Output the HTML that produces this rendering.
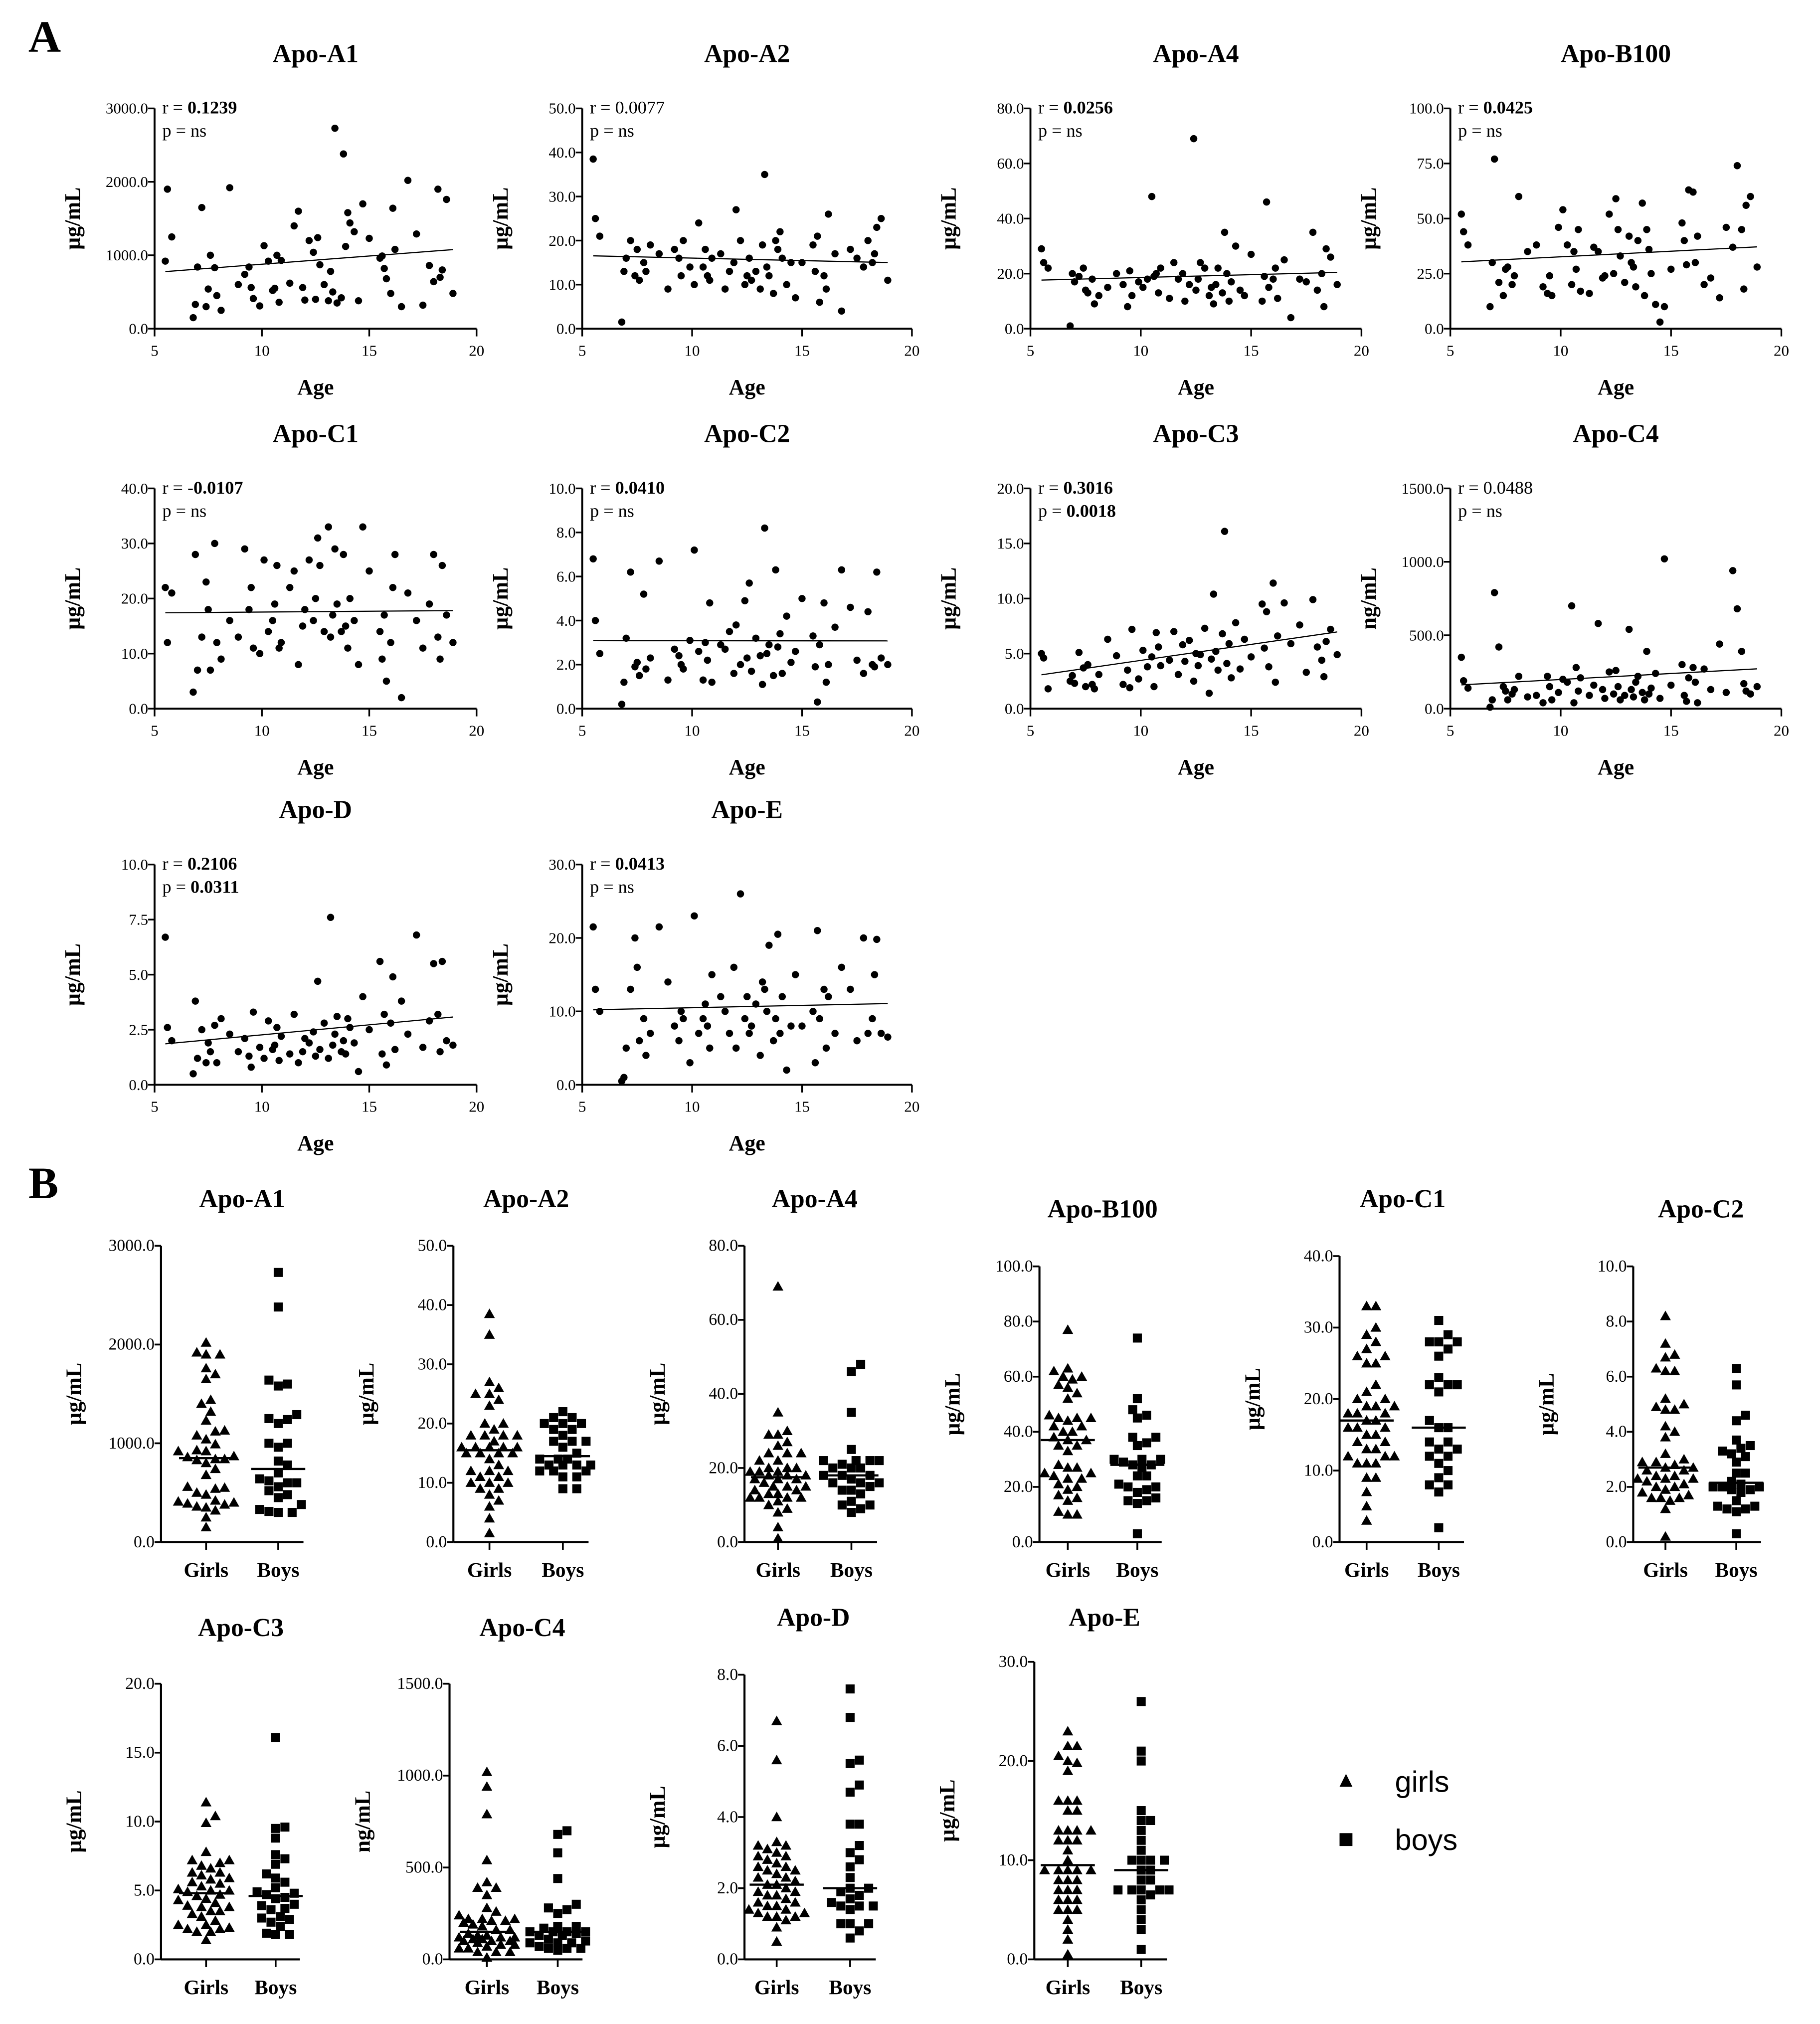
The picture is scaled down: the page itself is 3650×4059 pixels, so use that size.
<!DOCTYPE html>
<html><head><meta charset="utf-8"><style>
html,body{margin:0;padding:0;background:#fff;}
svg{display:block;font-family:"Liberation Serif",serif;}
</style></head><body>
<svg id="fig" xmlns="http://www.w3.org/2000/svg" width="3650" height="4059" viewBox="0 0 1413 1571">
<rect width="1413" height="1571" fill="#fff"/>
<text x="22" y="40" font-size="35" font-weight="bold">A</text>
<text x="22" y="930" font-size="35" font-weight="bold">B</text>
<g>
<path d="M1045,1377 L1050,1387 L1040,1387 Z" fill="#000"/>
<text x="1083" y="1391" font-size="23" font-family="Liberation Sans, sans-serif">girls</text>
<rect x="1040" y="1423" width="10" height="10" fill="#000"/>
<text x="1083" y="1436" font-size="23" font-family="Liberation Sans, sans-serif">boys</text>
</g>
</svg>
<script>
const ages=[5.5,5.6,5.8,6.8,6.9,7.0,7.2,7.4,7.5,7.6,7.8,7.9,8.1,8.5,8.9,9.2,9.4,9.5,9.6,9.9,10.1,10.3,10.5,10.6,10.7,10.8,10.9,11.3,11.5,11.7,11.9,12.0,12.2,12.4,12.5,12.6,12.7,12.9,13.1,13.2,13.3,13.4,13.5,13.7,13.8,13.9,14.0,14.1,14.3,14.5,14.7,15.0,15.5,15.6,15.7,15.8,16.0,16.1,16.2,16.5,16.8,17.2,17.5,17.8,18.0,18.2,18.3,18.4,18.6,18.9];
const sex=("GGBGBGGBGB"+"GBGGBGGBGB"+"GGBGBGGBGB"+"GGBGGBGBGB"+"GBGGBGBGGB"+"GGBGBGGBGB"+"GBGGBGBGGB").split("");
const apoA1=[920,1900,1250,150,330,840,1650,300,540,1000,830,450,250,1920,600,740,840,560,410,310,1130,920,520,550,1000,360,930,620,1400,1600,560,390,1200,1040,400,1240,870,600,380,780,500,2730,350,420,2380,1120,1580,1440,1320,380,1700,1230,960,990,820,680,480,1640,1080,300,2020,1290,320,860,640,1900,700,800,1760,480];
const apoA2=[38.5,25,21,1.5,13,16,20,12,18,11,15,13,19,17,9,18,16,12,20,14,10,24,14,18,12,11,16,17,9,13,15,27,20,10,12,16,11,13,9,19,35,14,12,8,20,18,22,16,10,15,7,15,19,13,21,6,12,9,26,17,4,18,16,14,20,15,17,23,25,11];
const apoA4=[29,24,22,1,20,17,19,22,14,13,18,9,12,15,20,16,8,21,12,17,15,18,48,19,20,13,22,11,24,18,20,10,16,69,14,18,24,22,12,15,9,16,22,13,35,20,10,17,30,14,12,27,10,19,46,15,18,22,11,25,4,18,17,35,14,20,8,29,26,16];
const apoB100=[52,44,38,10,30,77,21,15,27,28,20,24,60,35,38,19,16,24,15,46,54,38,20,35,27,45,17,16,37,35,23,24,52,25,59,45,33,21,42,30,28,19,40,57,15,45,36,25,11,3,10,27,48,40,29,63,62,30,42,20,23,14,46,37,74,45,18,56,60,28];
const apoC1=[22,12,21,3,28,7,13,23,18,7,30,12,9,16,13,29,18,22,11,10,27,14,16,19,26,11,12,22,25,8,15,18,27,16,20,31,26,14,33,13,17,29,19,14,28,15,11,20,16,8,33,25,14,9,17,5,12,22,28,2,21,16,11,19,28,13,9,26,17,12];
const apoC2=[6.8,4,2.5,0.2,1.2,3.2,6.2,1.9,2.1,1.5,5.2,1.8,2.3,6.7,1.3,2.7,2.4,2.0,1.8,3.1,7.2,2.6,1.3,3.0,2.2,4.8,1.2,2.9,2.7,3.5,1.6,3.8,2.0,4.9,2.3,5.7,1.7,3.2,2.4,1.1,8.2,2.5,2.9,1.5,6.3,2.8,3.4,1.6,4.2,2.1,2.6,5.0,3.3,1.9,0.3,2.9,4.8,1.2,2.0,3.7,6.3,4.6,2.2,1.6,4.4,2.0,1.9,6.2,2.3,2.0];
const apoC3=[5,4.6,1.8,2.5,3,2.3,5.1,3.7,2.0,4.0,2.2,1.8,3.1,6.3,4.8,2.2,3.5,1.9,7.2,2.7,5.3,3.8,4.7,2.0,6.9,5.6,3.9,4.4,7.0,3.1,5.8,4.3,6.2,2.5,5.0,3.9,4.9,7.3,1.4,4.5,10.4,5.2,3.5,6.8,16.1,4.1,5.9,2.8,7.8,3.6,6.3,4.7,9.5,5.5,8.8,3.8,11.4,2.4,6.6,9.6,5.9,7.6,3.3,9.9,5.6,4.4,2.9,6.1,7.2,4.9];
const apoC4=[350,190,140,10,60,790,420,150,120,60,100,130,220,80,90,40,220,150,60,110,200,180,700,40,280,120,210,90,160,580,130,70,250,100,260,150,60,90,540,130,80,180,220,110,60,390,100,140,240,70,1020,160,300,90,50,210,280,180,40,270,130,440,110,940,680,390,170,120,100,150];
const apoD=[6.7,2.6,2.0,0.5,3.8,1.2,2.5,1.0,1.9,1.5,2.7,1.0,3.0,2.3,1.5,2.1,1.3,0.8,3.3,1.7,1.2,2.9,1.6,1.8,2.6,1.1,2.2,1.4,3.2,1.0,1.5,2.1,1.9,2.4,1.3,4.7,1.6,2.8,1.2,7.6,1.8,2.3,3.1,1.5,2.0,1.4,3.0,2.6,1.9,0.6,4.0,2.5,5.6,1.4,3.2,0.9,2.8,4.9,1.6,3.8,2.3,6.8,1.7,2.9,5.5,3.2,1.5,5.6,2.0,1.8];
const apoE=[21.5,13,10,0.5,1,5,13,20,16,6,9,4,7,21.5,14,8,6,10,9,3,23,7,9,11,8,5,15,12,10,7,16,5,26,9,12,7,8,11,4,14,13,10,19,6,9,20.5,7,12,2,8,15,8,10,3,21,9,13,5,12,7,16,13,6,20,7,9,15,19.8,7,6.5];
const xTicks=[5,10,15,20];
const rTexts=["0.1239","0.0077","0.0256","0.0425","-0.0107","0.0410","0.3016","0.0488","0.2106","0.0413"];
const pTexts=["ns","ns","ns","ns","ns","ns","0.0018","ns","0.0311","ns"];

const NS="http://www.w3.org/2000/svg";
const svg=document.getElementById("fig");
function el(tag,attrs,parent,text){const e=document.createElementNS(NS,tag);for(const k in attrs)e.setAttribute(k,attrs[k]);if(text!==undefined)e.textContent=text;(parent||svg).appendChild(e);return e;}
function fmt(v){return v.toFixed(1);}

const scatterCfg=[
{t:"Apo-A1",d:apoA1,x0:120,x1:370,top:84,bot:255,max:3000,step:1000,u:"µg/mL",rb:true,pb:false},
{t:"Apo-A2",d:apoA2,x0:452,x1:708,top:84,bot:255,max:50,step:10,u:"µg/mL",rb:false,pb:false},
{t:"Apo-A4",d:apoA4,x0:800,x1:1057,top:84,bot:255,max:80,step:20,u:"µg/mL",rb:true,pb:false},
{t:"Apo-B100",d:apoB100,x0:1126,x1:1383,top:84,bot:255,max:100,step:25,u:"µg/mL",rb:true,pb:false},
{t:"Apo-C1",d:apoC1,x0:120,x1:370,top:379,bot:550,max:40,step:10,u:"µg/mL",rb:true,pb:false},
{t:"Apo-C2",d:apoC2,x0:452,x1:708,top:379,bot:550,max:10,step:2,u:"µg/mL",rb:true,pb:false},
{t:"Apo-C3",d:apoC3,x0:800,x1:1057,top:379,bot:550,max:20,step:5,u:"µg/mL",rb:true,pb:true},
{t:"Apo-C4",d:apoC4,x0:1126,x1:1383,top:379,bot:550,max:1500,step:500,u:"ng/mL",rb:false,pb:false},
{t:"Apo-D",d:apoD,x0:120,x1:370,top:671,bot:842,max:10,step:2.5,u:"µg/mL",rb:true,pb:true},
{t:"Apo-E",d:apoE,x0:452,x1:708,top:671,bot:842,max:30,step:10,u:"µg/mL",rb:true,pb:false}];

scatterCfg.forEach((c,i)=>{
  const slug=c.t.toLowerCase();
  const g=el("g",{});
  
  
  const xs=a=>c.x0+(a-5)/15*(c.x1-c.x0);
  const ys=v=>c.bot-v/c.max*(c.bot-c.top);
  const tt=el("text",{x:(c.x0+c.x1)/2,y:c.top-36,"font-size":20,"font-weight":"bold","text-anchor":"middle"},g,c.t);
  
  
  el("line",{x1:c.x0,y1:c.top,x2:c.x0,y2:c.bot,stroke:"#000","stroke-width":1.5},g);
  el("line",{x1:c.x0,y1:c.bot,x2:c.x1,y2:c.bot,stroke:"#000","stroke-width":1.5},g);
  for(let v=0;v<=c.max+1e-9;v+=c.step){
    const y=ys(v);
    el("line",{x1:c.x0-5,y1:y,x2:c.x0,y2:y,stroke:"#000","stroke-width":1.3},g);
    const tl=el("text",{x:c.x0-5,y:y+4,"font-size":12,"text-anchor":"end"},g,fmt(v));
    
    
  }
  xTicks.forEach(a=>{
    const x=xs(a);
    el("line",{x1:x,y1:c.bot,x2:x,y2:c.bot+6,stroke:"#000","stroke-width":1.3},g);
    const tl=el("text",{x:x,y:c.bot+21,"font-size":12,"text-anchor":"middle"},g,String(a));
    
    
  });
  const xl=el("text",{x:(c.x0+c.x1)/2,y:c.bot+51,"font-size":17,"font-weight":"bold","text-anchor":"middle"},g,"Age");
  
  
  const cy=(c.top+c.bot)/2;
  const yl=el("text",{x:c.x0-58,y:cy,"font-size":17,"font-weight":"bold","text-anchor":"middle",transform:`rotate(-90 ${c.x0-58} ${cy})`},g,c.u);
  
  
  const r=el("text",{x:c.x0+6,y:c.top+4,"font-size":14},g);
  
  
  el("tspan",{},r,"r = ");
  el("tspan",{"font-weight":c.rb?"bold":"normal"},r,rTexts[i]);
  const p=el("text",{x:c.x0+6,y:c.top+22,"font-size":14},g);
  
  
  el("tspan",{},p,"p = ");
  el("tspan",{"font-weight":c.pb?"bold":"normal"},p,"  "+pTexts[i]);
  const n=ages.length;let sx=0,sy=0,sxx=0,sxy=0;
  for(let k=0;k<n;k++){sx+=ages[k];sy+=c.d[k];sxx+=ages[k]*ages[k];sxy+=ages[k]*c.d[k];}
  const b=(n*sxy-sx*sy)/(n*sxx-sx*sx),a0=(sy-b*sx)/n;
  const amin=Math.min(...ages),amax=Math.max(...ages);
  const rl=el("line",{x1:xs(amin),y1:ys(a0+b*amin),x2:xs(amax),y2:ys(a0+b*amax),stroke:"#000","stroke-width":0.9},g);
  
  
  for(let k=0;k<n;k++){
    const pt=el("circle",{cx:xs(ages[k]),cy:ys(c.d[k]),r:2.8,fill:"#000"},g);
    
    
  }
});

const dotCfg=[
{t:"Apo-A1",d:apoA1,ax:125,gx:160,bx:216,top:967,bot:1197,max:3000,step:1000,u:"µg/mL",ty:937},
{t:"Apo-A2",d:apoA2,ax:352,gx:380,bx:437,top:967,bot:1197,max:50,step:10,u:"µg/mL",ty:937},
{t:"Apo-A4",d:apoA4,ax:578,gx:604,bx:661,top:967,bot:1197,max:80,step:20,u:"µg/mL",ty:937},
{t:"Apo-B100",d:apoB100,ax:807,gx:829,bx:883,top:983,bot:1197,max:100,step:20,u:"µg/mL",ty:945},
{t:"Apo-C1",d:apoC1,ax:1040,gx:1061,bx:1117,top:975,bot:1197,max:40,step:10,u:"µg/mL",ty:937},
{t:"Apo-C2",d:apoC2,ax:1268,gx:1293,bx:1348,top:983,bot:1197,max:10,step:2,u:"µg/mL",ty:945},
{t:"Apo-C3",d:apoC3,ax:125,gx:160,bx:214,top:1307,bot:1521,max:20,step:5,u:"µg/mL",ty:1270},
{t:"Apo-C4",d:apoC4,ax:349,gx:378,bx:433,top:1307,bot:1521,max:1500,step:500,u:"ng/mL",ty:1270},
{t:"Apo-D",d:apoD,ax:578,gx:603,bx:660,top:1300,bot:1521,max:8,step:2,u:"µg/mL",ty:1262},
{t:"Apo-E",d:apoE,ax:803,gx:829,bx:886,top:1290,bot:1521,max:30,step:10,u:"µg/mL",ty:1262}];

function median(a){const s=[...a].sort((x,y)=>x-y);const m=s.length>>1;return s.length%2?s[m]:(s[m-1]+s[m])/2;}

dotCfg.forEach(c=>{
  const slug=c.t.toLowerCase();
  const g=el("g",{});
  
  
  const ys=v=>c.bot-v/c.max*(c.bot-c.top);
  const tt=el("text",{x:(c.gx+c.bx)/2,y:c.ty,"font-size":20,"font-weight":"bold","text-anchor":"middle"},g,c.t);
  
  
  const xend=c.bx+(c.bx-c.gx)*0.35;
  el("line",{x1:c.ax,y1:c.top,x2:c.ax,y2:c.bot,stroke:"#000","stroke-width":1.6},g);
  el("line",{x1:c.ax,y1:c.bot,x2:xend,y2:c.bot,stroke:"#000","stroke-width":1.6},g);
  for(let v=0;v<=c.max+1e-9;v+=c.step){
    const y=ys(v);
    el("line",{x1:c.ax-5,y1:y,x2:c.ax,y2:y,stroke:"#000","stroke-width":1.4},g);
    const tl=el("text",{x:c.ax-5,y:y+4,"font-size":13,"text-anchor":"end"},g,fmt(v));
    
    
  }
  [["Girls",c.gx],["Boys",c.bx]].forEach(([lab,x])=>{
    el("line",{x1:x,y1:c.bot,x2:x,y2:c.bot+6,stroke:"#000","stroke-width":1.4},g);
    const tl=el("text",{x:x,y:c.bot+27,"font-size":16,"font-weight":"bold","text-anchor":"middle"},g,lab);
    
    
  });
  const cy=(c.top+c.bot)/2;
  const yl=el("text",{x:c.ax-62,y:cy,"font-size":17,"font-weight":"bold","text-anchor":"middle",transform:`rotate(-90 ${c.ax-62} ${cy})`},g,c.u);
  
  
  ["G","B"].forEach(s=>{
    const vals=c.d.filter((v,k)=>sex[k]===s).sort((a,b)=>a-b);
    const cx0=s==="G"?c.gx:c.bx;
    const placed=[];const D=7.2;const MAXOFF=22;
    vals.forEach(v=>{
      const y=ys(v);let best=0,bestD=-1;
      for(let j=0;j<40;j++){
        const off=(j%2?1:-1)*Math.ceil(j/2)*3.6;
        if(Math.abs(off)>MAXOFF)break;
        let md=Infinity;placed.forEach(p=>{md=Math.min(md,Math.hypot(p[0]-(cx0+off),p[1]-y));});
        if(md>=D){best=off;bestD=md;break;}
        if(md>bestD){bestD=md;best=off;}
      }
      const x=cx0+best;placed.push([x,y]);
      let m;
      if(s==="G") m=el("path",{d:`M${x},${y-4.2} L${x+4.2},${y+3.2} L${x-4.2},${y+3.2} Z`,fill:"#000"},g);
      else m=el("rect",{x:x-3.5,y:y-3.5,width:7,height:7,fill:"#000"},g);
      
      
    });
    const my=ys(median(vals));
    const ml=el("line",{x1:cx0-21,y1:my,x2:cx0+21,y2:my,stroke:"#000","stroke-width":1.7},g);
    
    
  });
});
</script>
</body></html>
